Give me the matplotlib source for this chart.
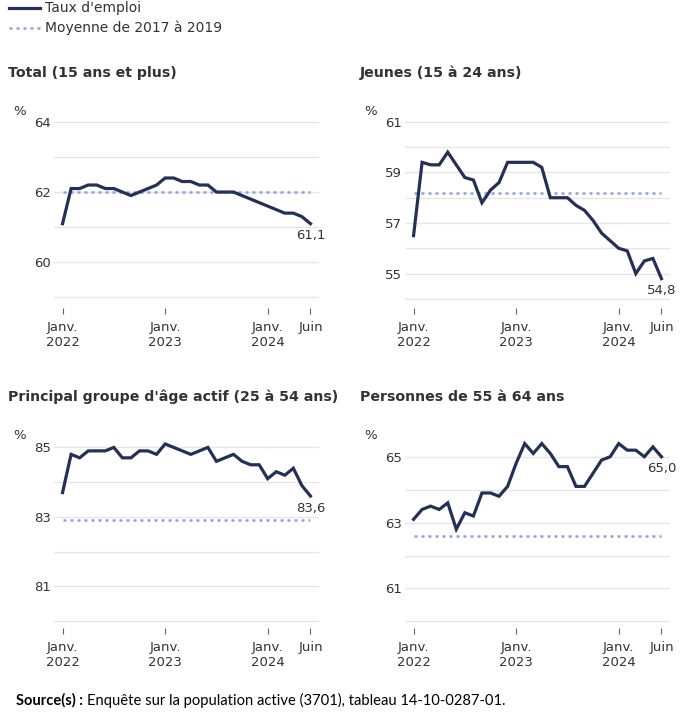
import matplotlib
matplotlib.use("Agg")
import matplotlib.pyplot as plt
from matplotlib.lines import Line2D

# mois de janv. 2022 a juin 2024 (30 points)
months = list(range(30))
tick_pos = [0, 12, 24, 29]
tick_labels = ["Janv.\n2022", "Janv.\n2023", "Janv.\n2024", "Juin"]

total = [61.1, 62.1, 62.1, 62.2, 62.2, 62.1, 62.1, 62.0, 61.9, 62.0, 62.1, 62.2,
         62.4, 62.4, 62.3, 62.3, 62.2, 62.2, 62.0, 62.0, 62.0, 61.9, 61.8, 61.7,
         61.6, 61.5, 61.4, 61.4, 61.3, 61.1]
jeunes = [56.5, 59.4, 59.3, 59.3, 59.8, 59.3, 58.8, 58.7, 57.8, 58.3, 58.6, 59.4,
          59.4, 59.4, 59.4, 59.2, 58.0, 58.0, 58.0, 57.7, 57.5, 57.1, 56.6, 56.3,
          56.0, 55.9, 55.0, 55.5, 55.6, 54.8]
principal = [83.7, 84.8, 84.7, 84.9, 84.9, 84.9, 85.0, 84.7, 84.7, 84.9, 84.9, 84.8,
             85.1, 85.0, 84.9, 84.8, 84.9, 85.0, 84.6, 84.7, 84.8, 84.6, 84.5, 84.5,
             84.1, 84.3, 84.2, 84.4, 83.9, 83.6]
age55 = [63.1, 63.4, 63.5, 63.4, 63.6, 62.8, 63.3, 63.2, 63.9, 63.9, 63.8, 64.1,
         64.8, 65.4, 65.1, 65.4, 65.1, 64.7, 64.7, 64.1, 64.1, 64.5, 64.9, 65.0,
         65.4, 65.2, 65.2, 65.0, 65.3, 65.0]

moy_total = 62.0
moy_jeunes = 58.2
moy_principal = 82.9
moy_55 = 62.6

titles = ["Total (15 ans et plus)", "Jeunes (15 à 24 ans)",
          "Principal groupe d'âge actif (25 à 54 ans)", "Personnes de 55 à 64 ans"]

LINE = "#233058"
AVG = "#8fa1d9"
TXT = "#333333"
W, H = 691, 713

fig = plt.figure(figsize=(W / 100, H / 100), dpi=100)


def px_axes(l, t, r, b):
    return fig.add_axes([l / W, 1 - b / H, (r - l) / W, (b - t) / H])


def panel(ax, data, avg, ylim, yticks, ylabels, label):
    ax.set_xlim(-1, 30)
    ax.set_ylim(*ylim)
    ax.set_yticks(yticks)
    ax.set_yticklabels(ylabels)
    ax.grid(axis="y", color="#e6e6e6", linewidth=1)
    ax.set_axisbelow(True)
    for s in ax.spines.values():
        s.set_visible(False)
    ax.tick_params(axis="y", length=0, labelsize=9.5, labelcolor=TXT, pad=2)
    ax.set_xticks(tick_pos)
    ax.set_xticklabels(tick_labels)
    ax.tick_params(axis="x", length=4, color="#666666", labelsize=9.5,
                   labelcolor=TXT, pad=5, direction="out")
    ax.plot(months, [avg] * len(months), color=AVG, linewidth=1.8,
            linestyle=(0, (1.2, 1.6)))
    ax.plot(months, data, color=LINE, linewidth=2.3, solid_joinstyle="miter")
    ax.annotate(label, (months[-1], data[-1]), xytext=(0, -4),
                textcoords="offset points", ha="center", va="top",
                fontsize=9.5, color=TXT)
    ax.text(-0.155, 1.01, "%", transform=ax.transAxes, fontsize=9.5, color=TXT,
            ha="left", va="center")


ax1 = px_axes(54, 113, 319, 308)
panel(ax1, total, moy_total, (58.7, 64.25), [59, 60, 61, 62, 63, 64],
      ["", "60", "", "62", "", "64"], "61,1")
ax2 = px_axes(405, 113, 670, 308)
panel(ax2, jeunes, moy_jeunes, (53.64, 61.35), [54, 55, 56, 57, 58, 59, 60, 61],
      ["", "55", "", "57", "", "59", "", "61"], "54,8")
ax3 = px_axes(54, 437, 319, 628)
panel(ax3, principal, moy_principal, (79.8, 85.3), [80, 81, 82, 83, 84, 85],
      ["", "81", "", "83", "", "85"], "83,6")
ax4 = px_axes(405, 437, 670, 628)
panel(ax4, age55, moy_55, (59.8, 65.6), [60, 61, 62, 63, 64, 65],
      ["", "61", "", "63", "", "65"], "65,0")

# titres des panneaux
for x, y, t in [(8, 73, titles[0]), (360, 73, titles[1]),
                (8, 397, titles[2]), (360, 397, titles[3])]:
    fig.text(x / W, 1 - y / H, t, fontsize=10.2, fontweight="bold", color=TXT, va="center")

# legende
fig.add_artist(Line2D([9 / W, 40 / W], [1 - 8 / H, 1 - 8 / H], color=LINE, linewidth=2.3))
fig.add_artist(Line2D([9 / W, 40 / W], [1 - 28 / H, 1 - 28 / H], color=AVG, linewidth=1.8,
                      linestyle=(0, (1.2, 1.6))))
fig.text(45 / W, 1 - 8 / H, "Taux d'emploi", fontsize=10, color=TXT, va="center")
fig.text(45 / W, 1 - 28 / H, "Moyenne de 2017 à 2019", fontsize=10, color=TXT, va="center")

# source
fig.text(16 / W, 1 - 700 / H, "Source(s) :", fontsize=10.5, fontweight="bold",
         family="Lato", color="black", va="center")
fig.text(87 / W, 1 - 700 / H, "Enquête sur la population active (3701), tableau 14-10-0287-01.",
         fontsize=10.6, family="Lato", color="black", va="center")

fig.savefig("out.png", dpi=100, facecolor="white")
